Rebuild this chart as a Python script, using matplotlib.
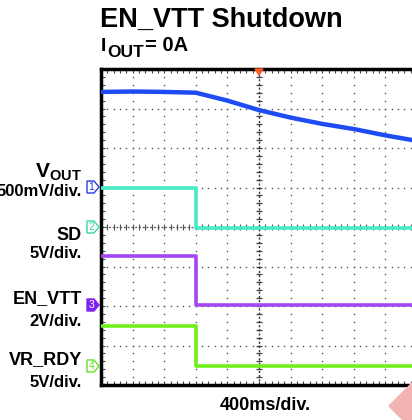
import numpy as np
import matplotlib
matplotlib.use("Agg")
import matplotlib.pyplot as plt
from matplotlib.patches import Polygon

plt.rcParams['font.family'] = ['Liberation Sans', 'DejaVu Sans']
plt.rcParams['mathtext.fontset'] = 'custom'
plt.rcParams['mathtext.rm'] = 'Liberation Sans:bold'
plt.rcParams['mathtext.it'] = 'Liberation Sans:bold'
plt.rcParams['mathtext.bf'] = 'Liberation Sans:bold'

# ---- data (scope divisions: x 0..10, y 0..8) ----
vout_t = [0.0, 1.0, 2.0, 3.0, 4.0, 5.0, 6.0, 7.0, 8.0, 9.0, 10.0]
vout_v = [7.42, 7.43, 7.42, 7.40, 7.20, 6.96, 6.77, 6.61, 6.48, 6.32, 6.18]
step_t = [0.0, 3.0, 3.0, 10.0]
sd_v = [5.0, 5.0, 3.98, 3.98]
envtt_v = [3.27, 3.27, 2.02, 2.02]
vrrdy_v = [1.49, 1.49, 0.48, 0.48]

labels_name = ["SD", "EN_VTT", "VR_RDY"]
labels_scale = ["500mV/div.", "5V/div.", "2V/div.", "5V/div."]

W, H = 412, 420
fig = plt.figure(figsize=(W / 100, H / 100), dpi=100)

def fx(px):
    return px / W

def fy(py):
    return 1 - py / H

ax = fig.add_axes([fx(101), fy(385), 316 / W, 316 / H])
ax.set_xlim(0, 10)
ax.set_ylim(0, 8)
for s in ax.spines.values():
    s.set_linewidth(2.5)
    s.set_color('black')

ax.set_xticks(np.arange(0, 10.01, 1))
ax.set_yticks(np.arange(0, 8.01, 1))
ax.set_xticks(np.arange(0, 10.01, 0.2), minor=True)
ax.set_yticks(np.arange(0, 8.01, 0.2), minor=True)
ax.tick_params(which='both', direction='in', top=True, bottom=True, left=True, right=True,
               labelbottom=False, labelleft=False, length=3, width=0.8, color='#444444')

# grid dots
gc = '#555555'
sub_y = np.arange(0, 8.01, 0.2)
sub_x = np.arange(0, 10.01, 0.2)
for k in range(1, 10):
    ax.plot(np.full_like(sub_y, k), sub_y, ls='none', marker='s', ms=1.0, mfc=gc, mec='none', zorder=1)
for k in range(1, 8):
    ax.plot(sub_x, np.full_like(sub_x, k), ls='none', marker='s', ms=1.0, mfc=gc, mec='none', zorder=1)
# center cross ticks
ax.plot(np.full_like(sub_y, 5), sub_y, ls='none', marker='_', ms=5, mew=0.9, color='#444444', zorder=1)
ax.plot(sub_x, np.full_like(sub_x, 4), ls='none', marker='|', ms=4, mew=0.8, color='#555555', zorder=1)
ax.plot([5, 5], [0, 8], ls=(0, (1.5, 1.5)), lw=1.0, color='#333333', zorder=1)
ax.plot([0, 10], [4, 4], ls=(0, (1.5, 1.5)), lw=0.9, color='#555555', zorder=1)

# traces
ax.plot(vout_t, vout_v, color='#1f4cf2', lw=3.2, solid_capstyle='butt', zorder=3)
ax.plot(step_t, sd_v, color='#45ecc4', lw=2.6, zorder=3)
ax.plot(step_t, envtt_v, color='#a346f5', lw=2.6, zorder=3)
ax.plot(step_t, vrrdy_v, color='#6ff01a', lw=2.6, zorder=3)

# trigger marker on top
fig.patches.append(Polygon([(fx(255), fy(69)), (fx(263), fy(69)), (fx(259), fy(75))],
                           closed=True, transform=fig.transFigure, color='#ff5a1f', zorder=5))

# channel markers
def chan_marker(ycen, num, color, filled):
    x0, x1, x2 = 87, 94, 99
    pts = [(fx(x0), fy(ycen - 6)), (fx(x1), fy(ycen - 6)), (fx(x2), fy(ycen)),
           (fx(x1), fy(ycen + 6)), (fx(x0), fy(ycen + 6))]
    fig.patches.append(Polygon(pts, closed=True, transform=fig.transFigure,
                               facecolor=color if filled else 'white', edgecolor=color, lw=1.0))
    fig.text(fx(91.5), fy(ycen), num, color='white' if filled else color, fontsize=7.5,
             ha='center', va='center')

chan_marker(187, '1', '#2a3fe0', False)
chan_marker(227, '2', '#35d8a8', False)
chan_marker(305, '3', '#7e22f0', True)
chan_marker(366, '4', '#66e025', False)

# watermark diamond
fig.patches.append(Polygon([(fx(389), fy(406)), (fx(412), fy(383)), (fx(435), fy(406)), (fx(412), fy(429))],
                           closed=True, transform=fig.transFigure, color='#f2b3b3', zorder=0))

# titles
fig.text(fx(100), fy(27), "EN_VTT Shutdown", fontsize=19.5, fontweight='bold', ha='left', va='baseline')
fig.text(fx(101), fy(51), "I", fontsize=14, fontweight='bold', ha='left', va='baseline')
fig.text(fx(107), fy(57), "OUT", fontsize=12.5, fontweight='bold', ha='left', va='baseline')
fig.text(fx(145), fy(51), "= 0A", fontsize=14.5, fontweight='bold', ha='left', va='baseline')

# left labels
rx = fx(82)
fig.text(rx, fy(178), r"V$_{\mathrm{OUT}}$", fontsize=15, fontweight='bold', ha='right', va='baseline')
fig.text(rx, fy(192), labels_scale[0], fontsize=12, fontweight='bold', ha='right', va='center')
fig.text(rx, fy(235.5), labels_name[0], fontsize=13, fontweight='bold', ha='right', va='center')
fig.text(rx, fy(253), labels_scale[1], fontsize=12, fontweight='bold', ha='right', va='center')
fig.text(rx, fy(298.5), labels_name[1], fontsize=13, fontweight='bold', ha='right', va='center')
fig.text(rx, fy(321), labels_scale[2], fontsize=12, fontweight='bold', ha='right', va='center')
fig.text(rx, fy(360), labels_name[2], fontsize=13, fontweight='bold', ha='right', va='center')
fig.text(rx, fy(382.5), labels_scale[3], fontsize=12, fontweight='bold', ha='right', va='center')

fig.text(fx(265.5), fy(405), "400ms/div.", fontsize=13, fontweight='bold', ha='center', va='center')

fig.savefig("out.png", dpi=100)
